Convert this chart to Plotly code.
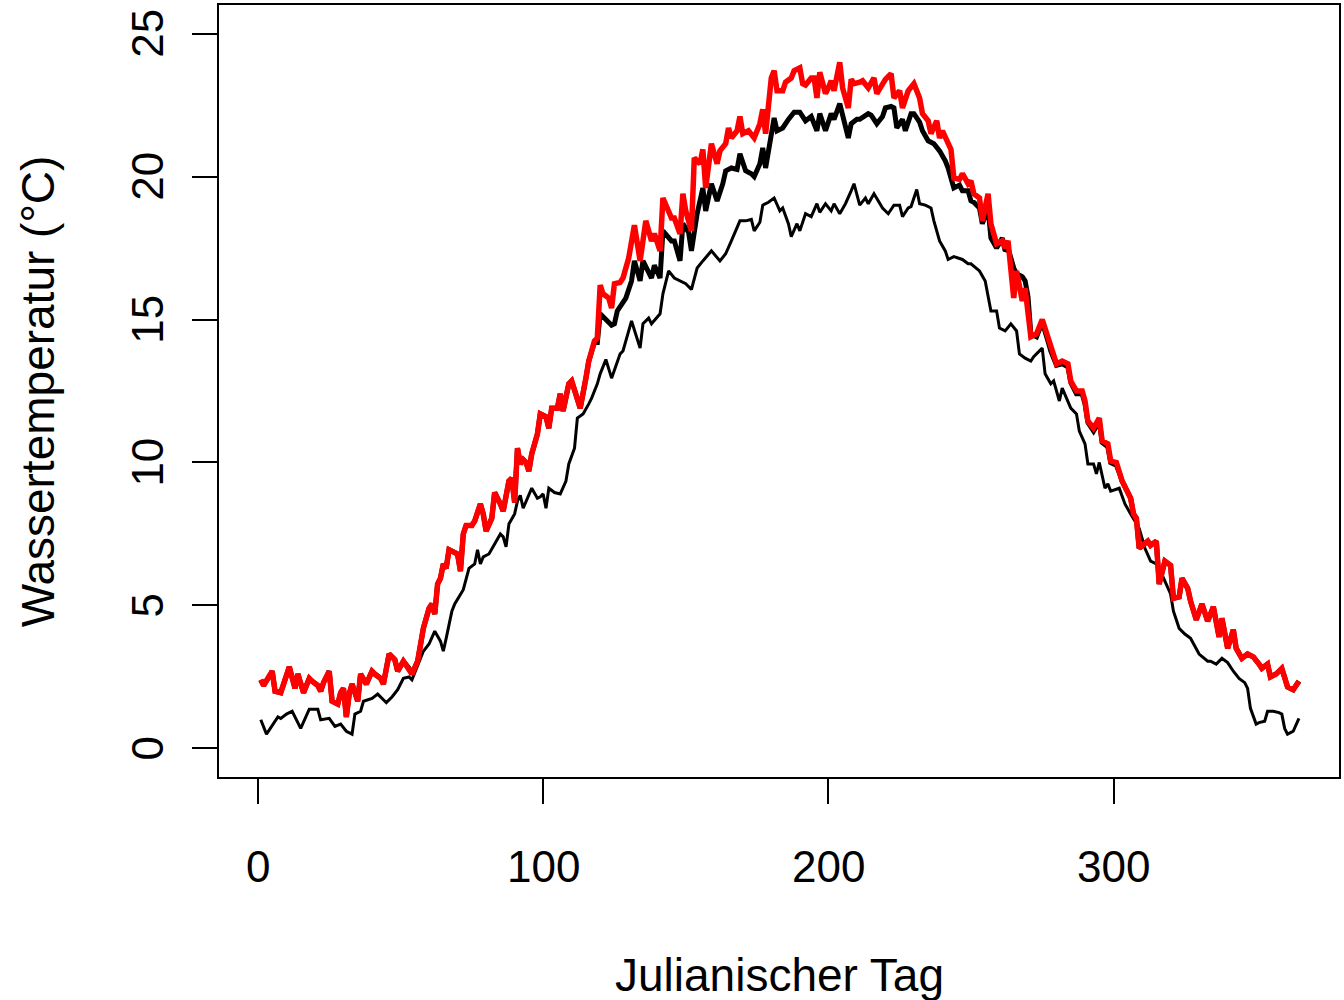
import plotly.graph_objects as go

# ---------------- data ----------------
days_red = [1,2,5,6,8,9,11,13,14,16,18,19,21,22,23,25,26,28,29,30,31,32,33,35,36,38,40,41,43,44,
            46,48,49,51,53,54,56,58,60,61,62,63,64,65,66,67,68,70,71,72,73,75,76,78,79,80,82,83,85,86,
            88,89,90,91,92,93,94,95,96,98,99,101,102,103,105,106,107,109,110,112,113,115,116,118,119,120,121,123,124,125,
            127,128,130,132,134,136,138,139,141,142,145,146,148,149,150,152,153,155,156,157,159,161,162,164,165,166,168,169,170,172,
            174,176,177,178,180,181,182,184,185,187,188,190,191,192,194,195,196,197,199,200,201,202,204,205,207,208,209,211,212,214,
            216,217,220,222,223,225,226,228,230,232,233,235,236,238,239,240,242,243,244,246,247,249,250,251,253,254,256,257,259,261,
            262,263,265,266,268,269,271,273,275,277,278,280,282,284,285,287,289,290,291,293,295,296,298,299,301,302,303,305,306,307,
            308,309,310,312,313,315,316,318,320,321,323,324,326,327,329,331,333,335,337,338,340,342,343,345,347,349,351,352,354,355,
            357,359,361,363,365]
temp_red = [2.4,2.2,2.7,2.0,1.95,2.25,2.85,2.1,2.6,1.95,2.45,2.35,2.2,2.0,2.3,2.7,1.65,1.55,1.95,2.1,1.1,1.9,2.25,1.65,2.6,2.25,2.7,2.6,2.45,2.25,
            3.3,3.1,2.7,3.05,2.8,2.6,3.05,4.2,4.9,5.05,4.7,5.75,5.95,6.45,6.3,6.95,6.9,6.8,6.2,7.5,7.8,7.8,7.95,8.55,8.2,7.6,8.05,8.95,8.55,8.3,
            9.35,9.45,8.6,10.5,9.95,10.1,10.0,9.7,10.3,11.0,11.7,11.6,11.2,11.9,11.9,12.4,11.8,12.75,12.85,12.15,11.9,12.95,13.55,14.25,14.35,16.2,15.9,15.75,15.4,16.25,
            16.3,16.45,17.15,18.3,17.05,18.45,17.75,18.0,17.4,19.25,18.55,18.55,18.0,19.4,18.8,18.1,20.65,20.45,20.95,19.6,21.15,20.45,20.9,21.15,21.7,21.35,21.6,22.1,21.5,21.6,
            21.35,21.85,22.35,21.5,23.45,23.7,23.0,23.0,23.3,23.45,23.7,23.8,23.25,23.2,23.45,23.45,22.75,23.65,22.9,23.1,23.35,23.0,24.0,23.1,22.4,23.4,23.25,23.3,23.35,23.1,
            23.45,22.9,23.4,23.6,22.75,23.0,22.4,23.0,23.25,22.75,22.2,21.95,21.5,21.95,21.35,21.6,21.15,20.95,19.95,19.9,20.1,19.75,19.85,19.4,19.25,18.45,19.4,18.35,17.65,17.75,
            17.5,17.75,15.75,16.7,15.65,16.1,14.4,14.5,15.0,14.35,14.0,13.45,13.55,13.45,12.85,12.5,12.5,12.15,11.45,11.2,11.55,10.75,10.65,10.05,10.0,9.65,9.35,8.95,8.75,8.2,
            8.05,7.0,7.1,7.25,7.1,7.25,5.75,6.55,6.4,5.25,5.3,5.95,5.6,5.15,4.5,5.05,4.45,4.95,3.9,4.55,3.5,4.15,3.5,3.15,3.3,3.2,2.95,2.8,2.95,2.5,
            2.6,2.8,2.15,2.05,2.35]

days_thick = [1,2,5,6,8,9,11,13,14,16,18,19,21,22,23,25,26,28,29,30,31,32,33,35,36,38,40,41,43,44,
              46,48,49,51,53,54,56,58,60,61,62,63,64,65,66,67,68,70,71,72,73,75,76,78,79,80,82,83,85,86,
              88,89,90,91,92,93,94,95,96,98,99,101,102,103,105,106,107,109,110,112,113,115,116,118,119,120,122,124,125,126,
              129,131,132,134,135,137,138,139,141,142,145,146,148,149,151,152,154,156,157,159,161,163,164,166,168,169,171,173,174,176,
              177,178,180,181,182,184,186,188,190,192,194,196,197,199,201,202,204,205,207,208,210,211,214,215,217,219,220,222,223,224,
              226,227,229,230,232,233,235,237,239,241,242,244,246,247,249,250,251,253,254,256,257,259,261,262,263,265,266,268,269,270,
              271,273,275,277,278,280,282,284,285,287,289,290,291,293,295,296,298,299,301,302,303,305,306,307,308,309,310,312,313,315,
              316,318,320,321,323,324,326,327,329,331,333,335,337,338,340,342,343,345,347,349,351,352,354,355,357,359,361,363,365]
temp_thick = [2.4,2.2,2.7,2.0,1.95,2.25,2.85,2.1,2.6,1.95,2.45,2.35,2.2,2.0,2.3,2.7,1.65,1.55,1.95,2.1,1.1,1.9,2.25,1.65,2.6,2.25,2.7,2.6,2.45,2.25,
              3.3,3.1,2.7,3.05,2.8,2.6,3.05,4.2,4.9,5.05,4.7,5.75,5.95,6.45,6.3,6.95,6.9,6.8,6.2,7.5,7.8,7.8,7.95,8.55,8.2,7.6,8.05,8.95,8.55,8.3,
              9.35,9.45,8.6,10.5,9.95,10.1,10.0,9.7,10.3,11.0,11.7,11.6,11.2,11.9,11.9,12.4,11.8,12.75,12.85,12.15,11.9,12.95,13.55,14.2,14.2,15.2,15.0,14.8,14.85,15.3,
              15.75,16.35,17.05,16.35,17.05,16.7,16.45,16.9,16.45,18.1,17.75,17.75,17.05,18.35,18.05,17.4,18.7,19.6,18.8,19.75,19.15,19.75,20.2,20.3,20.25,20.8,20.2,20.1,20.0,20.45,
              21.0,20.3,21.35,22.05,21.6,21.7,22.0,22.25,22.25,21.95,22.1,21.6,22.2,21.6,22.2,22.0,22.55,22.2,21.35,21.85,22.0,22.0,22.2,22.15,21.85,22.1,22.4,22.45,22.4,21.7,
              22.0,21.6,22.2,22.2,21.9,21.6,21.25,21.15,20.9,20.55,20.3,19.6,19.7,19.5,19.5,19.15,19.1,18.9,18.35,18.9,17.85,17.5,17.85,17.4,17.5,16.8,16.6,16.5,16.35,15.8,
              14.5,14.4,14.9,14.25,13.9,13.4,13.45,13.35,12.8,12.4,12.4,12.05,11.4,11.1,11.45,10.7,10.55,10.0,9.9,9.65,9.35,8.95,8.75,8.2,8.05,7.0,7.1,7.25,7.1,7.25,
              5.75,6.55,6.4,5.25,5.3,5.95,5.6,5.15,4.5,5.05,4.45,4.95,3.9,4.55,3.5,4.15,3.5,3.15,3.3,3.2,2.95,2.8,2.95,2.5,2.6,2.8,2.15,2.05,2.35]

days_thin = [1,3,7,8,10,12,15,18,21,22,25,27,29,31,33,34,36,37,40,42,44,45,47,49,51,53,54,57,58,60,
             62,64,65,66,68,69,71,72,74,76,77,78,79,81,83,85,86,87,88,90,91,92,93,95,96,98,99,100,101,102,
             104,106,108,109,111,112,114,116,117,119,120,122,124,127,128,131,134,135,137,138,141,142,144,146,148,150,152,154,156,159,
             162,164,166,167,169,171,173,174,176,177,179,181,183,184,186,187,189,190,192,194,196,197,199,201,202,204,206,208,209,211,
             213,214,216,219,221,223,225,226,228,229,231,232,234,236,237,239,241,242,244,247,249,250,253,255,257,259,260,262,264,266,
             267,269,271,272,275,276,278,279,281,282,285,287,288,290,291,293,294,295,297,298,299,302,304,306,309,311,313,315,316,318,
             320,321,323,325,327,330,333,334,336,338,340,342,344,346,347,348,350,351,353,354,356,358,359,360,361,363,365]
temp_thin = [1.0,0.5,1.1,1.05,1.2,1.3,0.7,1.37,1.37,1.0,1.05,0.77,0.85,0.6,0.5,1.2,1.3,1.65,1.75,1.9,1.7,1.6,1.8,2.05,2.45,2.5,2.4,3.15,3.4,3.65,
             4.1,3.75,3.4,3.85,4.8,5.05,5.4,5.55,6.3,6.45,6.95,6.45,6.7,6.8,7.15,7.5,7.4,7.05,7.85,8.2,8.65,8.85,8.4,8.9,9.1,8.75,8.8,8.9,8.4,9.1,
             8.95,8.9,9.35,9.95,10.5,11.55,11.7,12.05,12.25,12.75,13.1,13.6,12.95,13.8,13.9,14.95,14.0,14.85,15.05,14.85,15.2,15.9,16.7,16.45,16.35,16.25,16.05,16.8,17.05,17.4,
             17.05,17.3,17.75,18.0,18.45,18.45,18.5,18.1,18.4,19.0,19.1,19.25,18.8,18.9,18.35,17.9,18.35,18.1,18.7,18.6,19.05,18.75,19.05,18.8,19.05,18.7,19.05,19.5,19.75,19.0,
             19.25,19.05,19.4,18.9,18.7,19.0,19.0,18.6,18.9,18.95,19.55,19.05,19.0,18.9,18.45,17.75,17.4,17.1,17.2,17.1,16.95,16.95,16.7,16.35,15.3,15.3,14.7,14.6,14.85,14.6,
             13.8,13.65,13.55,13.7,14.0,13.1,12.75,12.85,12.15,12.6,11.9,11.7,11.1,10.65,9.95,9.95,9.6,10.0,9.1,9.25,9.0,9.1,8.55,8.2,7.7,7.0,6.55,6.45,6.3,5.85,
             5.4,4.8,4.2,4.0,3.85,3.3,3.05,3.05,2.95,3.15,3.0,2.7,2.45,2.3,2.1,1.4,0.85,0.9,0.95,1.3,1.3,1.25,1.2,0.7,0.5,0.6,1.05]

x_ticks = [0, 100, 200, 300]
y_ticks = [0, 5, 10, 15, 20, 25]
x_title = "Julianischer Tag"
y_title = "Wassertemperatur (°C)"

# ---------------- figure ----------------
W, H = 1344, 1000
ML, MR, MT, MB = 219, 3, 5, 223
PW, PH = W - ML - MR, H - MT - MB
FONT = "Liberation Sans, Arial, Helvetica, sans-serif"
FS = 44
FS_TITLE = 46

fig = go.Figure()
fig.add_trace(go.Scatter(x=days_thin, y=temp_thin, mode="lines",
                         line=dict(color="black", width=3), hoverinfo="skip"))
fig.add_trace(go.Scatter(x=days_thick, y=temp_thick, mode="lines",
                         line=dict(color="black", width=5), hoverinfo="skip"))
fig.add_trace(go.Scatter(x=days_red, y=temp_red, mode="lines",
                         line=dict(color="#ff0000", width=5.5), hoverinfo="skip"))

fig.update_layout(
    width=W, height=H,
    margin=dict(l=ML, r=MR, t=MT, b=MB, pad=0),
    paper_bgcolor="white", plot_bgcolor="white",
    showlegend=False,
    font=dict(family=FONT, size=FS, color="black"),
)
fig.update_xaxes(range=[-13.65, 379.05], showgrid=False, zeroline=False,
                 showline=True, mirror=True, linecolor="black", linewidth=1.5,
                 tickmode="array", tickvals=x_ticks, ticks="outside", ticklen=25,
                 tickwidth=1.5, tickcolor="black", showticklabels=False)
fig.update_yaxes(range=[-1, 26], showgrid=False, zeroline=False,
                 showline=True, mirror=True, linecolor="black", linewidth=1.5,
                 tickmode="array", tickvals=y_ticks, ticks="outside", ticklen=25,
                 tickwidth=1.5, tickcolor="black", showticklabels=False)

ann = []
for v in x_ticks:
    ann.append(dict(x=v, xref="x", y=-(866 - 777) / PH, yref="paper", text=str(v),
                    showarrow=False, xanchor="center", yanchor="middle",
                    font=dict(family=FONT, size=FS, color="black")))
for v in y_ticks:
    ann.append(dict(x=(147 - ML) / PW, xref="paper", y=v, yref="y", text=str(v),
                    showarrow=False, xanchor="center", yanchor="middle", textangle=-90,
                    font=dict(family=FONT, size=FS, color="black")))
ann.append(dict(x=0.5, xref="paper", y=-(975 - 777) / PH, yref="paper", text=x_title,
                showarrow=False, xanchor="center", yanchor="middle",
                font=dict(family=FONT, size=FS_TITLE, color="black")))
ann.append(dict(x=(38 - ML) / PW, xref="paper", y=0.5, yref="paper", text=y_title,
                showarrow=False, xanchor="center", yanchor="middle", textangle=-90,
                font=dict(family=FONT, size=FS_TITLE, color="black")))
fig.update_layout(annotations=ann)

fig.write_html("out.html", config={"displayModeBar": False},
               post_script="document.body.style.margin='0';")
